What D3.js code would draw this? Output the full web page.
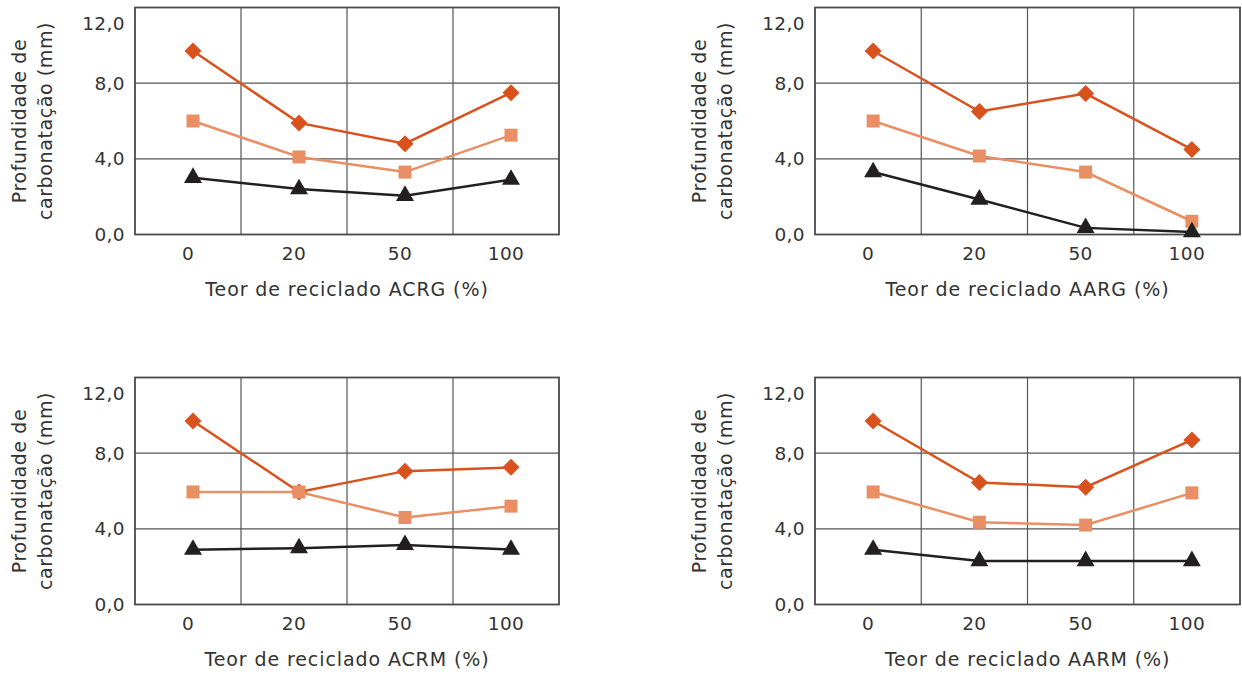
<!DOCTYPE html>
<html>
<head>
<meta charset="utf-8">
<script src="https://cdn.jsdelivr.net/npm/d3@7"></script>
<style>
  html, body { margin: 0; padding: 0; background: #fff; }
  svg { display: block; }
  text { font-family: "DejaVu Sans", "Noto Sans", sans-serif; fill: #333; }
</style>
</head>
<body>
<svg id="chart" width="1242" height="675"></svg>
<script>
// Recycled aggregate content (%) on the x axis
const categories = ["0", "20", "50", "100"];
const yTicks = [0, 4, 8, 12];
const yTickLabels = ["0,0", "4,0", "8,0", "12,0"];
const yTitleLines = ["Profundidade de", "carbonatação (mm)"];

const panelNames = ["ACRG", "AARG", "ACRM", "AARM"];

// Carbonation depth (mm), three series per panel
const diamondACRG = [9.7, 5.9, 4.8, 7.5];
const squareACRG = [6.0, 4.1, 3.3, 5.25];
const triangleACRG = [3.0, 2.4, 2.05, 2.9];

const diamondAARG = [9.7, 6.5, 7.45, 4.5];
const squareAARG = [6.0, 4.15, 3.3, 0.7];
const triangleAARG = [3.3, 1.85, 0.35, 0.13];

const diamondACRM = [9.7, 5.95, 7.05, 7.25];
const squareACRM = [5.95, 5.95, 4.6, 5.2];
const triangleACRM = [2.9, 2.98, 3.15, 2.9];

const diamondAARM = [9.7, 6.45, 6.2, 8.7];
const squareAARM = [5.95, 4.35, 4.2, 5.9];
const triangleAARM = [2.9, 2.3, 2.3, 2.3];

const panelSeries = [
  [diamondACRG, squareACRG, triangleACRG],
  [diamondAARG, squareAARG, triangleAARG],
  [diamondACRM, squareACRM, triangleACRM],
  [diamondAARM, squareAARM, triangleAARM]
];

const seriesStyle = [
  { color: "#d9521d", shape: "diamond", width: 2.5 },
  { color: "#e98f63", shape: "square", width: 2.5 },
  { color: "#231f20", shape: "triangle", width: 2.5 }
];

const svg = d3.select("#chart");

// Plot frames for the 2x2 grid
const frames = [
  { x0: 135, x1: 559, y0: 7.5, y1: 234.5 },
  { x0: 815, x1: 1240, y0: 7.5, y1: 234.5 },
  { x0: 135, x1: 559, y0: 377.5, y1: 604.5 },
  { x0: 815, x1: 1240, y0: 377.5, y1: 604.5 }
];

function markerPath(shape) {
  if (shape === "diamond") return "M0,-8.5L8.5,0L0,8.5L-8.5,0Z";
  if (shape === "square") return "M-6.5,-6.5H6.5V6.5H-6.5Z";
  return d3.symbol().type(d3.symbolTriangle).size(140)();
}

panelNames.forEach((name, i) => {
  const f = frames[i];
  const g = svg.append("g");

  const x = d3.scaleBand().domain(categories).range([f.x0, f.x1]);
  const y = d3.scaleLinear().domain([0, 12]).range([f.y1, f.y0]);
  const px = c => x(c) + x.bandwidth() / 2 + 5;

  // horizontal grid
  g.append("g").selectAll("line")
    .data(yTicks.filter(t => t > 0 && t < 12))
    .join("line")
    .attr("x1", f.x0).attr("x2", f.x1)
    .attr("y1", d => y(d)).attr("y2", d => y(d))
    .attr("stroke", "#555").attr("stroke-width", 1.2);

  // vertical grid at category boundaries
  g.append("g").selectAll("line")
    .data(categories.slice(1))
    .join("line")
    .attr("x1", d => x(d)).attr("x2", d => x(d))
    .attr("y1", f.y0).attr("y2", f.y1)
    .attr("stroke", "#555").attr("stroke-width", 1.2);

  // frame
  g.append("rect")
    .attr("x", f.x0).attr("y", f.y0)
    .attr("width", f.x1 - f.x0).attr("height", f.y1 - f.y0)
    .attr("fill", "none").attr("stroke", "#4a4a4a").attr("stroke-width", 1.8);

  // y tick labels
  g.append("g").selectAll("text")
    .data(yTicks)
    .join("text")
    .attr("x", f.x0 - 10)
    .attr("y", d => Math.max(y(d), f.y0 + 16))
    .attr("text-anchor", "end")
    .attr("dominant-baseline", "central")
    .attr("font-size", 18.5)
    .attr("letter-spacing", 0.4)
    .text((d, k) => yTickLabels[k]);

  // x tick labels
  g.append("g").selectAll("text")
    .data(categories)
    .join("text")
    .attr("x", d => x(d) + x.bandwidth() / 2)
    .attr("y", f.y1 + 19)
    .attr("text-anchor", "middle")
    .attr("dominant-baseline", "central")
    .attr("font-size", 18.5)
    .attr("letter-spacing", 0.4)
    .text(d => d);

  // x axis title
  g.append("text")
    .attr("x", (f.x0 + f.x1) / 2)
    .attr("y", f.y1 + 54)
    .attr("text-anchor", "middle")
    .attr("dominant-baseline", "central")
    .attr("font-size", 19)
    .attr("letter-spacing", 0.9)
    .text(`Teor de reciclado ${name} (%)`);

  // y axis title (two lines)
  const yc = (f.y0 + f.y1) / 2;
  const ty = g.append("text")
    .attr("transform", `translate(${f.x0 - 109},${yc}) rotate(-90)`)
    .attr("text-anchor", "middle")
    .attr("font-size", 19)
    .attr("letter-spacing", 0.6);
  yTitleLines.forEach((line, k) => {
    ty.append("tspan").attr("x", 0).attr("y", k * 26).text(line);
  });

  // series lines and markers
  panelSeries[i].forEach((vals, s) => {
    const st = seriesStyle[s];
    const pts = categories.map((c, k) => [px(c), y(vals[k])]);
    g.append("path")
      .attr("d", d3.line()(pts))
      .attr("fill", "none")
      .attr("stroke", st.color)
      .attr("stroke-width", st.width);
    g.append("g").selectAll("path")
      .data(pts)
      .join("path")
      .attr("transform", d => `translate(${d[0]},${d[1]})`)
      .attr("d", markerPath(st.shape))
      .attr("fill", st.color);
  });
});
</script>
</body>
</html>
